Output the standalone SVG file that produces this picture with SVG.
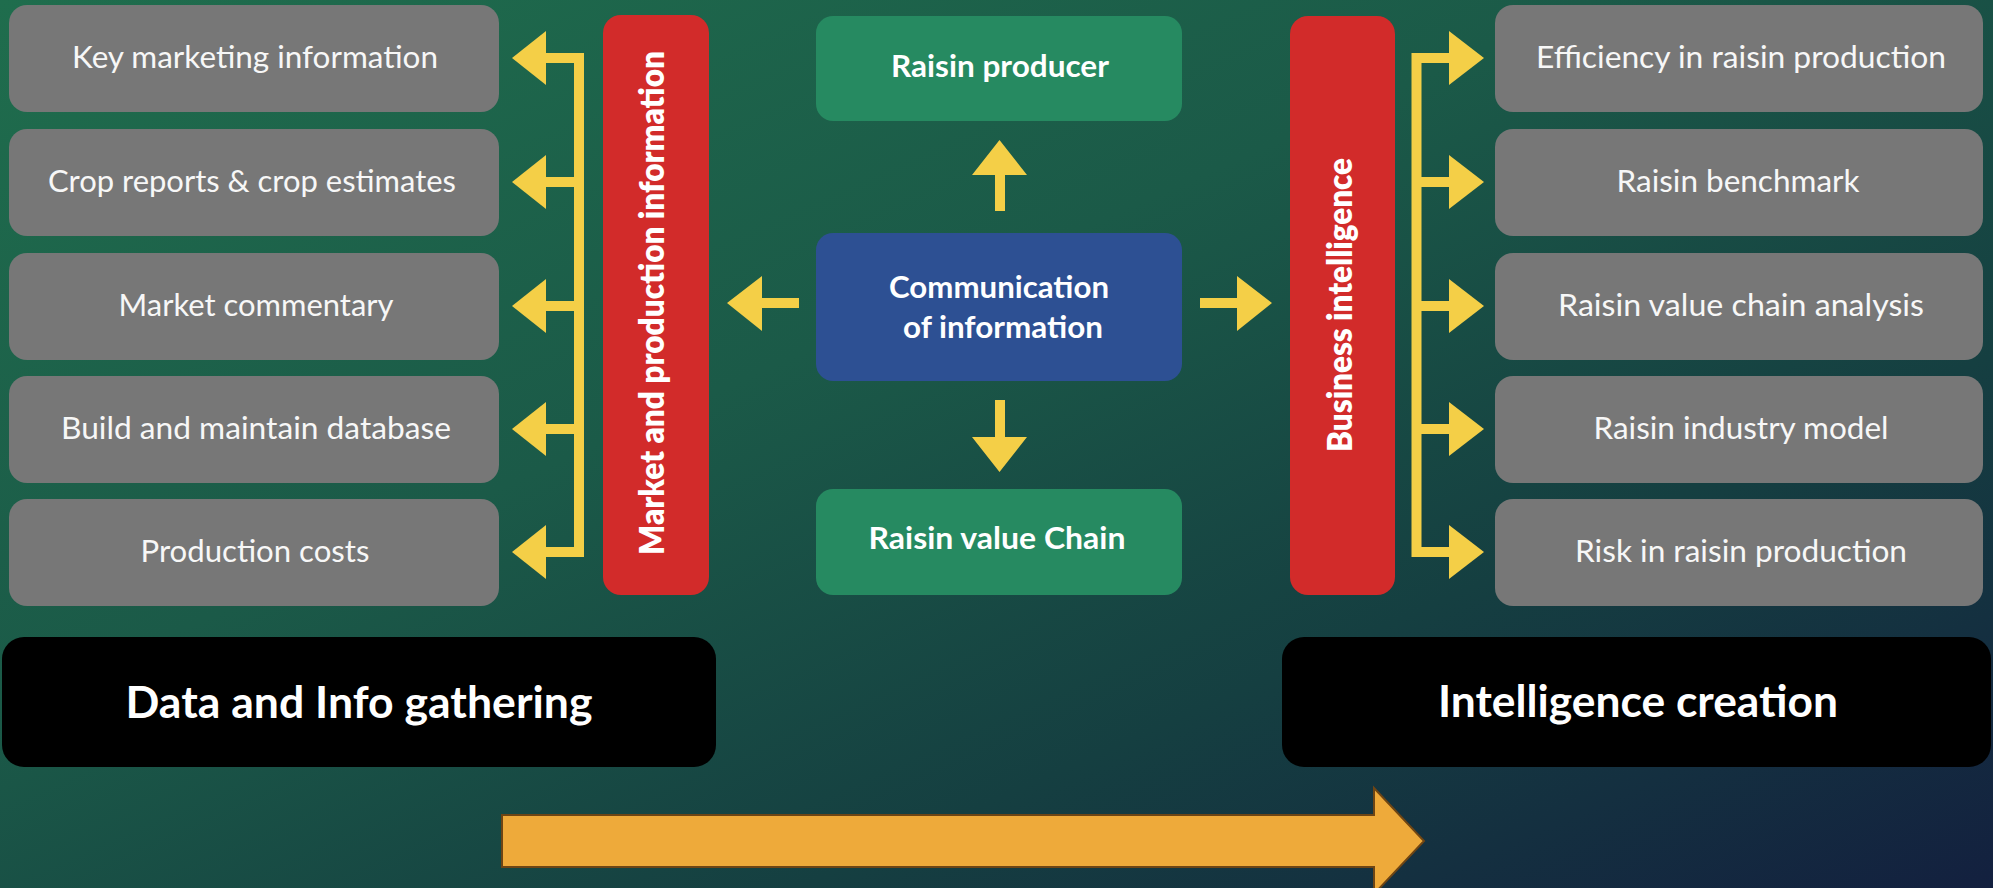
<svg xmlns="http://www.w3.org/2000/svg" width="1993" height="888" viewBox="0 0 1993 888">
  <defs>
    <linearGradient id="bg" x1="0" y1="0" x2="1" y2="1">
      <stop offset="0" stop-color="#1f6d4d"/>
      <stop offset="0.4" stop-color="#1b5a48"/>
      <stop offset="0.7" stop-color="#153f41"/>
      <stop offset="1" stop-color="#13203f"/>
    </linearGradient>
    <style>
      .item { fill: #777777; }
      .item-label { font-family: Lato, "Open Sans", sans-serif; font-size: 30px; fill: #f7f7f7; text-anchor: middle; }
      .bar { fill: #d22b2a; }
      .bar-label { font-family: Lato, "Open Sans", sans-serif; font-weight: 800; font-size: 33px; fill: #ffffff; text-anchor: middle; }
      .hub-green { fill: #268a61; }
      .hub-blue { fill: #2d5093; }
      .hub-label { font-family: Lato, "Open Sans", sans-serif; font-weight: 700; font-size: 30px; fill: #ffffff; text-anchor: middle; }
      .stage { fill: #000000; }
      .stage-label { font-family: Lato, "Open Sans", sans-serif; font-weight: 700; font-size: 43px; fill: #ffffff; text-anchor: middle; }
      .trunk { fill: none; stroke: #f4cf47; stroke-width: 10; stroke-linejoin: miter; }
      .head { fill: #f4cf47; }
      .flow { fill: #eeaa3a; stroke: #6e4514; stroke-width: 2; }
    </style>
  </defs>

  <!-- background -->
  <rect x="0" y="0" width="1993" height="888" fill="url(#bg)"/>

  <!-- left column: information sources -->
  <g id="key-marketing-information">
    <rect class="item" x="9" y="5" width="490" height="107" rx="18"/>
    <text class="item-label" x="255" y="68" textLength="366" lengthAdjust="spacingAndGlyphs">Key marketing information</text>
  </g>
  <g id="crop-reports">
    <rect class="item" x="9" y="129" width="490" height="107" rx="18"/>
    <text class="item-label" x="252" y="192" textLength="408" lengthAdjust="spacingAndGlyphs">Crop reports &amp; crop estimates</text>
  </g>
  <g id="market-commentary">
    <rect class="item" x="9" y="253" width="490" height="107" rx="18"/>
    <text class="item-label" x="256" y="316" textLength="275" lengthAdjust="spacingAndGlyphs">Market commentary</text>
  </g>
  <g id="database">
    <rect class="item" x="9" y="376" width="490" height="107" rx="18"/>
    <text class="item-label" x="256" y="439" textLength="390" lengthAdjust="spacingAndGlyphs">Build and maintain database</text>
  </g>
  <g id="production-costs">
    <rect class="item" x="9" y="499" width="490" height="107" rx="18"/>
    <text class="item-label" x="255" y="562" textLength="229" lengthAdjust="spacingAndGlyphs">Production costs</text>
  </g>

  <!-- left vertical bar -->
  <g id="market-production-information">
    <rect class="bar" x="603" y="15" width="106" height="580" rx="18"/>
    <text class="bar-label" transform="translate(664,303) rotate(-90)" textLength="504" lengthAdjust="spacingAndGlyphs">Market and production information</text>
  </g>

  <!-- centre hub -->
  <g id="raisin-producer">
    <rect class="hub-green" x="816" y="16" width="366" height="105" rx="17"/>
    <text class="hub-label" x="1000" y="77" textLength="218" lengthAdjust="spacingAndGlyphs">Raisin producer</text>
  </g>
  <g id="communication-of-information">
    <rect class="hub-blue" x="816" y="233" width="366" height="148" rx="17"/>
    <text class="hub-label" x="999" y="298" textLength="220" lengthAdjust="spacingAndGlyphs">Communication</text>
    <text class="hub-label" x="1003" y="338" textLength="200" lengthAdjust="spacingAndGlyphs">of information</text>
  </g>
  <g id="raisin-value-chain">
    <rect class="hub-green" x="816" y="489" width="366" height="106" rx="17"/>
    <text class="hub-label" x="997" y="549" textLength="257" lengthAdjust="spacingAndGlyphs">Raisin value Chain</text>
  </g>

  <!-- right vertical bar -->
  <g id="business-intelligence">
    <rect class="bar" x="1290" y="16" width="105" height="579" rx="18"/>
    <text class="bar-label" transform="translate(1352,305) rotate(-90)" textLength="294" lengthAdjust="spacingAndGlyphs">Business intelligence</text>
  </g>

  <!-- right column: intelligence outputs -->
  <g id="efficiency">
    <rect class="item" x="1495" y="5" width="488" height="107" rx="18"/>
    <text class="item-label" x="1741" y="68" textLength="410" lengthAdjust="spacingAndGlyphs">Efficiency in raisin production</text>
  </g>
  <g id="raisin-benchmark">
    <rect class="item" x="1495" y="129" width="488" height="107" rx="18"/>
    <text class="item-label" x="1738" y="192" textLength="243" lengthAdjust="spacingAndGlyphs">Raisin benchmark</text>
  </g>
  <g id="value-chain-analysis">
    <rect class="item" x="1495" y="253" width="488" height="107" rx="18"/>
    <text class="item-label" x="1741" y="316" textLength="366" lengthAdjust="spacingAndGlyphs">Raisin value chain analysis</text>
  </g>
  <g id="industry-model">
    <rect class="item" x="1495" y="376" width="488" height="107" rx="18"/>
    <text class="item-label" x="1741" y="439" textLength="295" lengthAdjust="spacingAndGlyphs">Raisin industry model</text>
  </g>
  <g id="risk">
    <rect class="item" x="1495" y="499" width="488" height="107" rx="18"/>
    <text class="item-label" x="1741" y="562" textLength="332" lengthAdjust="spacingAndGlyphs">Risk in raisin production</text>
  </g>

  <!-- stage captions -->
  <g id="data-and-info-gathering">
    <rect class="stage" x="2" y="637" width="714" height="130" rx="22"/>
    <text class="stage-label" x="359" y="718" textLength="467" lengthAdjust="spacingAndGlyphs">Data and Info gathering</text>
  </g>
  <g id="intelligence-creation">
    <rect class="stage" x="1282" y="637" width="709" height="130" rx="22"/>
    <text class="stage-label" x="1638" y="717" textLength="400" lengthAdjust="spacingAndGlyphs">Intelligence creation</text>
  </g>

  <!-- connectors -->
  <g id="connectors">
    <!-- left fan-out -->
    <path class="trunk" d="M546,58 H579 V552 H546 M546,182 H579 M546,306 H579 M546,429 H579"/>
    <polygon class="head" points="512,58 546,31 546,85"/>
    <polygon class="head" points="512,182 546,155 546,209"/>
    <polygon class="head" points="512,306 546,279 546,333"/>
    <polygon class="head" points="512,429 546,402 546,456"/>
    <polygon class="head" points="512,552 546,525 546,579"/>

    <!-- right fan-out -->
    <path class="trunk" d="M1449,58 H1416.5 V552 H1449 M1449,182 H1416.5 M1449,306 H1416.5 M1449,429 H1416.5"/>
    <polygon class="head" points="1484,58 1449,31 1449,85"/>
    <polygon class="head" points="1484,182 1449,155 1449,209"/>
    <polygon class="head" points="1484,306 1449,279 1449,333"/>
    <polygon class="head" points="1484,429 1449,402 1449,456"/>
    <polygon class="head" points="1484,552 1449,525 1449,579"/>

    <!-- hub arrows -->
    <polygon class="head" points="995,211 995,175 972,175 999.5,140 1027,175 1005,175 1005,211"/>
    <polygon class="head" points="995,400 995,437 972,437 999.5,472 1027,437 1005,437 1005,400"/>
    <polygon class="head" points="799,298 762,298 762,276 727,303 762,331 762,308 799,308"/>
    <polygon class="head" points="1200,298 1237,298 1237,276 1272,303 1237,331 1237,308 1200,308"/>

    <!-- overall flow -->
    <polygon class="flow" points="502,815 1374,815 1374,788 1424,841 1374,894 1374,867 502,867"/>
  </g>
</svg>
